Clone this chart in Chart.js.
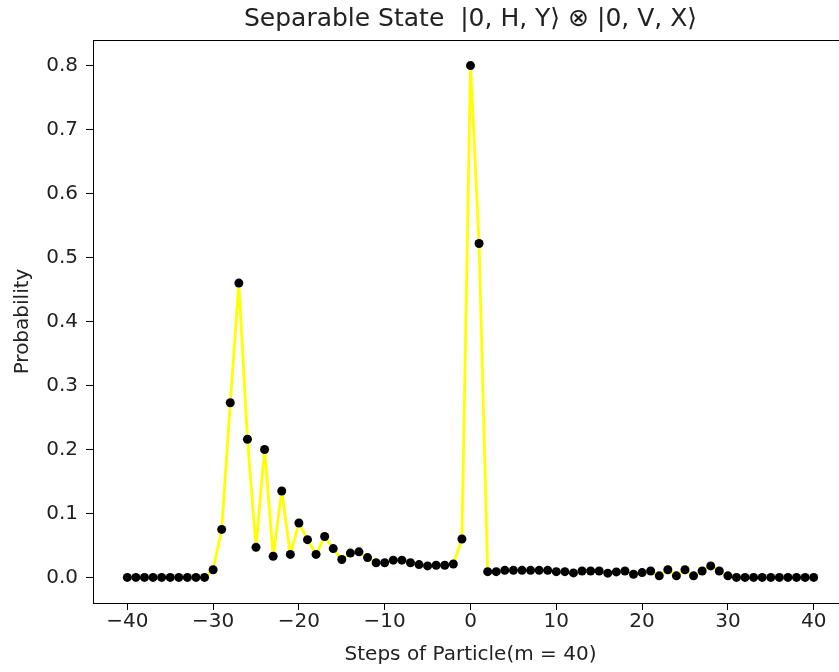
<!DOCTYPE html>
<html>
<head>
<meta charset="utf-8">
<script src="https://cdn.jsdelivr.net/npm/chart.js@4/dist/chart.umd.min.js"></script>
<style>
  html, body { margin: 0; padding: 0; background: #fff; }
  #wrap { width: 839px; height: 672px; overflow: hidden; position: relative; }
  #chart { position: absolute; left: 0; top: 0; }
</style>
</head>
<body>
<div id="wrap"><canvas id="chart" width="880" height="672"></canvas></div>
<script>
// Probability per step
const steps = [
  -40, -39, -38, -37, -36, -35, -34, -33, -32, -31,
  -30, -29, -28, -27, -26, -25, -24, -23, -22, -21,
  -20, -19, -18, -17, -16, -15, -14, -13, -12, -11,
  -10, -9, -8, -7, -6, -5, -4, -3, -2, -1,
  0, 1, 2, 3, 4, 5, 6, 7, 8, 9,
  10, 11, 12, 13, 14, 15, 16, 17, 18, 19,
  20, 21, 22, 23, 24, 25, 26, 27, 28, 29,
  30, 31, 32, 33, 34, 35, 36, 37, 38, 39, 40
];
const probability = [
  0, 0, 0, 0, 0, 0, 0, 0, 0, 0,
  0.012, 0.075, 0.273, 0.46, 0.216, 0.047, 0.2, 0.033, 0.135, 0.036,
  0.085, 0.059, 0.036, 0.064, 0.045, 0.028, 0.038, 0.040, 0.031, 0.023,
  0.023, 0.027, 0.027, 0.023, 0.020, 0.018, 0.019, 0.019, 0.021, 0.060,
  0.80, 0.522, 0.009, 0.009, 0.011, 0.011, 0.011, 0.011, 0.011, 0.011,
  0.009, 0.009, 0.007, 0.010, 0.010, 0.010, 0.0066, 0.0086, 0.010, 0.005,
  0.0075, 0.010, 0.0024, 0.012, 0.0024, 0.012, 0.0024, 0.010, 0.018, 0.010,
  0.0024, 0, 0, 0, 0, 0, 0, 0, 0, 0, 0
];
const xTicks = [-40, -30, -20, -10, 0, 10, 20, 30, 40];
const yTicks = [0, 0.1, 0.2, 0.3, 0.4, 0.5, 0.6, 0.7, 0.8];

const titleText = 'Separable State  |0, H, Y\u27E9 \u2297 |0, V, X\u27E9';
const textColor = '#222';
const fontFamily = "'DejaVu Sans', sans-serif";

// title above the plot and the full box around it
const framePlugin = {
    id: 'frame',
    afterDraw(chart) {
        const { ctx, chartArea } = chart;
        ctx.save();
        ctx.strokeStyle = '#000';
        ctx.lineWidth = 1;
        ctx.strokeRect(chartArea.left + 0.5, chartArea.top + 0.5,
            chartArea.right - chartArea.left, chartArea.bottom - chartArea.top);
        ctx.fillStyle = textColor;
        ctx.font = '25px ' + fontFamily;
        ctx.textAlign = 'center';
        ctx.textBaseline = 'middle';
        ctx.fillText(titleText, (chartArea.left + chartArea.right) / 2, 19);
        ctx.restore();
    }
};

new Chart(document.getElementById('chart'), {
    type: 'line',
    data: {
        datasets: [{
            label: 'Probability',
            data: steps.map((s, i) => ({ x: s, y: probability[i] })),
            borderColor: '#ffff00',
            borderWidth: 2.8,
            borderJoinStyle: 'round',
            borderCapStyle: 'round',
            tension: 0,
            fill: false,
            pointBackgroundColor: '#000',
            pointBorderColor: '#000',
            pointBorderWidth: 0,
            pointRadius: 4.5
        }]
    },
    options: {
        responsive: false,
        animation: false,
        layout: { padding: { left: 0, right: 32, top: 40, bottom: 0 } },
        plugins: {
            legend: { display: false },
            tooltip: { enabled: false }
        },
        scales: {
            x: {
                type: 'linear',
                min: -44,
                max: 44,
                afterBuildTicks: axis => { axis.ticks = xTicks.map(v => ({ value: v })); },
                afterFit: axis => { axis.height = 69; },
                grid: { drawOnChartArea: false, drawTicks: true, tickLength: 7, color: '#000' },
                border: { display: true, color: '#000', width: 1 },
                ticks: {
                    color: textColor,
                    padding: 0,
                    maxRotation: 0,
                    font: { family: fontFamily, size: 20 },
                    callback: v => v < 0 ? '\u2212' + Math.abs(v) : String(v)
                },
                title: {
                    display: true,
                    text: 'Steps of Particle(m = 40)',
                    color: textColor,
                    padding: { top: 0, bottom: 5 },
                    font: { family: fontFamily, size: 20 }
                }
            },
            y: {
                type: 'linear',
                min: -0.04,
                max: 0.84,
                afterBuildTicks: axis => { axis.ticks = yTicks.map(v => ({ value: v })); },
                afterFit: axis => { axis.width = 93; },
                grid: { drawOnChartArea: false, drawTicks: true, tickLength: 7, color: '#000' },
                border: { display: true, color: '#000', width: 1 },
                ticks: {
                    color: textColor,
                    padding: 8,
                    font: { family: fontFamily, size: 20 },
                    callback: v => v.toFixed(1)
                },
                title: {
                    display: true,
                    text: 'Probability',
                    color: textColor,
                    padding: { top: 11, bottom: 0 },
                    font: { family: fontFamily, size: 20 }
                }
            }
        }
    },
    plugins: [framePlugin]
});
</script>
</body>
</html>
